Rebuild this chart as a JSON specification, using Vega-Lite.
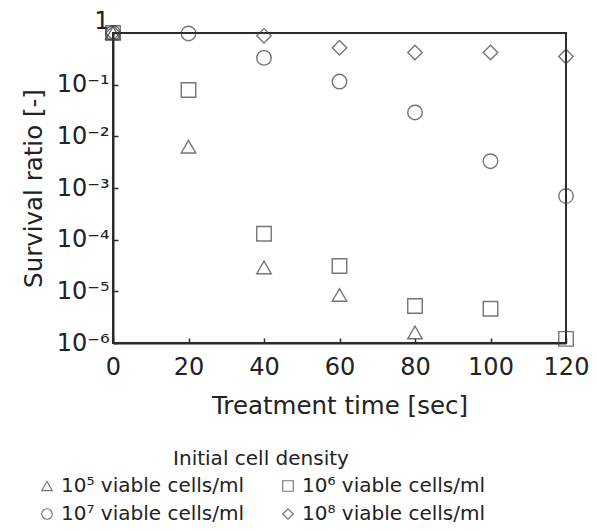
{
  "$schema": "https://vega.github.io/schema/vega-lite/v6.json",
  "width": 453,
  "height": 310,
  "autosize": "none",
  "padding": {"left": 113, "top": 33, "right": 31, "bottom": 188},
  "background": "white",
  "config": {"view": {"stroke": "#2b2b2b", "strokeWidth": 2}, "font": "DejaVu Sans"},
  "data": {"values": [
    {"t": 0, "s": 1, "d": "10⁵ viable cells/ml"},
    {"t": 20, "s": 0.0063, "d": "10⁵ viable cells/ml"},
    {"t": 40, "s": 0.000029, "d": "10⁵ viable cells/ml"},
    {"t": 60, "s": 0.0000085, "d": "10⁵ viable cells/ml"},
    {"t": 80, "s": 0.0000016, "d": "10⁵ viable cells/ml"},
    {"t": 0, "s": 1, "d": "10⁶ viable cells/ml"},
    {"t": 20, "s": 0.079, "d": "10⁶ viable cells/ml"},
    {"t": 40, "s": 0.00013, "d": "10⁶ viable cells/ml"},
    {"t": 60, "s": 0.000031, "d": "10⁶ viable cells/ml"},
    {"t": 80, "s": 0.0000052, "d": "10⁶ viable cells/ml"},
    {"t": 100, "s": 0.0000046, "d": "10⁶ viable cells/ml"},
    {"t": 120, "s": 0.0000012, "d": "10⁶ viable cells/ml"},
    {"t": 0, "s": 1, "d": "10⁷ viable cells/ml"},
    {"t": 20, "s": 0.98, "d": "10⁷ viable cells/ml"},
    {"t": 40, "s": 0.33, "d": "10⁷ viable cells/ml"},
    {"t": 60, "s": 0.115, "d": "10⁷ viable cells/ml"},
    {"t": 80, "s": 0.029, "d": "10⁷ viable cells/ml"},
    {"t": 100, "s": 0.0033, "d": "10⁷ viable cells/ml"},
    {"t": 120, "s": 0.0007, "d": "10⁷ viable cells/ml"},
    {"t": 0, "s": 1, "d": "10⁸ viable cells/ml"},
    {"t": 40, "s": 0.88, "d": "10⁸ viable cells/ml"},
    {"t": 60, "s": 0.52, "d": "10⁸ viable cells/ml"},
    {"t": 80, "s": 0.42, "d": "10⁸ viable cells/ml"},
    {"t": 100, "s": 0.42, "d": "10⁸ viable cells/ml"},
    {"t": 120, "s": 0.35, "d": "10⁸ viable cells/ml"}
  ]},
  "mark": {"type": "point", "filled": false, "size": 210, "strokeWidth": 1.4, "color": "#3c3c3c"},
  "encoding": {
    "x": {
      "field": "t", "type": "quantitative",
      "scale": {"domain": [0, 120], "nice": false, "zero": false},
      "axis": {
        "title": "Treatment time [sec]",
        "values": [0, 20, 40, 60, 80, 100, 120],
        "grid": false, "tickSize": -5, "tickColor": "#2b2b2b", "tickWidth": 1.5,
        "domainColor": "#2b2b2b", "domainWidth": 2,
        "labelFlush": false,
        "labelFontSize": 24, "labelColor": "#222", "labelPadding": 17,
        "titleFontSize": 24.5, "titleFontWeight": "normal", "titleColor": "#222", "titlePadding": 15
      }
    },
    "y": {
      "field": "s", "type": "quantitative",
      "scale": {"type": "log", "domain": [0.000001, 1], "nice": false},
      "axis": {
        "title": "Survival ratio [-]",
        "values": [0.000001, 0.00001, 0.0001, 0.001, 0.01, 0.1, 1],
        "labelExpr": "datum.value >= 0.5 ? '1' : '10⁻' + ['⁰','¹','²','³','⁴','⁵','⁶'][round(-log(datum.value)/LN10)]",
        "grid": false, "tickSize": -5, "tickColor": "#2b2b2b", "tickWidth": 1.5,
        "domainColor": "#2b2b2b", "domainWidth": 2,
        "labelFlush": false,
        "labelFontSize": 24, "labelColor": "#222", "labelPadding": 9,
        "labelBaseline": {"condition": {"test": "datum.value >= 0.5", "value": "bottom"}, "value": "middle"},
        "titleFontSize": 24.5, "titleFontWeight": "normal", "titleColor": "#222", "titlePadding": 10
      }
    },
    "shape": {
      "field": "d", "type": "nominal",
      "scale": {
        "domain": ["10⁵ viable cells/ml", "10⁶ viable cells/ml", "10⁷ viable cells/ml", "10⁸ viable cells/ml"],
        "range": ["triangle-up", "square", "circle", "diamond"]
      },
      "legend": {
        "title": "Initial cell density",
        "orient": "none", "legendX": -76, "legendY": 416,
        "direction": "horizontal", "columns": 2,
        "titleAnchor": "middle", "titleFontSize": 20, "titleFontWeight": "normal", "titleColor": "#222", "titlePadding": 7,
        "labelFontSize": 20, "labelColor": "#222", "labelLimit": 0, "labelOffset": 4,
        "symbolSize": 110, "symbolStrokeColor": "#3c3c3c", "symbolStrokeWidth": 1.2,
        "columnPadding": 34, "rowPadding": 8
      }
    }
  }
}
